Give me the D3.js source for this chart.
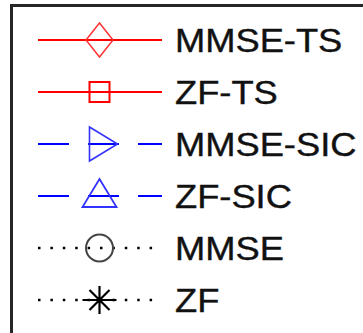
<!DOCTYPE html>
<html>
<head>
<meta charset="utf-8">
<script src="https://cdn.jsdelivr.net/npm/d3@7"></script>
<style>
  html, body { margin: 0; padding: 0; background: #fff; }
  svg { display: block; }
</style>
</head>
<body>
<div id="chart"></div>
<script>
const width = 363;
const height = 333;

// legend entries
const labels = ["MMSE-TS", "ZF-TS", "MMSE-SIC", "ZF-SIC", "MMSE", "ZF"];
const markers = ["diamond", "square", "triangleRight", "triangleUp", "circle", "star"];
const lineTypes = ["solid", "solid", "dashed", "dashed", "dotted", "dotted"];
const colors = ["#ff0000", "#ff0000", "#0000ff", "#0000ff", "#000000", "#000000"];

const svg = d3.select("#chart").append("svg")
    .attr("width", width)
    .attr("height", height);

// box (runs past the right and bottom edges)
svg.append("path")
    .attr("d", "M11.5,340 V5.5 H370")
    .attr("fill", "none")
    .attr("stroke", "#262626")
    .attr("stroke-width", 3);

const y = d3.scalePoint().domain(labels).range([40, 300]);
const x = d3.scaleLinear().domain([0, 1]).range([38, 162]);
const mx = x(0.5) - 0.5;

const dashFor = t => t === "dashed" ? "31,19" : (t === "dotted" ? "2.5,9.9" : null);

const rows = svg.selectAll("g.row")
    .data(labels)
    .enter().append("g")
    .attr("class", "row")
    .attr("transform", d => `translate(0,${y(d)})`);

rows.append("line")
    .attr("x1", x(0))
    .attr("x2", x(1))
    .attr("stroke", (d, i) => colors[i])
    .attr("stroke-width", (d, i) => lineTypes[i] === "dotted" ? 2.5 : 2)
    .attr("stroke-dasharray", (d, i) => dashFor(lineTypes[i]));

function markerPath(m) {
    switch (m) {
        case "diamond": return "M0,-17 L13.5,0 L0,17 L-13.5,0 Z";
        case "square": return "M-10,-10 H10 V10 H-10 Z";
        case "triangleRight": return "M-10,-17 L18,0 L-10,17 Z";
        case "triangleUp": return "M0,-17 L17,11 L-17,11 Z";
        case "circle": return d3.arc()({innerRadius: 0, outerRadius: 13.5, startAngle: 0, endAngle: 2 * Math.PI});
        case "star": return "M-17,0 H17 M0,-14 V14 M-10,-10 L10,10 M-10,10 L10,-10";
    }
}

const markerStroke = ["#ff3333", "#ff0000", "#3333ff", "#3333ff", "#444444", "#000000"];
const markerWidth = [1.5, 2, 1.6, 1.8, 2, 2.2];

rows.append("path")
    .attr("transform", `translate(${mx},0)`)
    .attr("d", (d, i) => markerPath(markers[i]))
    .attr("fill", "none")
    .attr("stroke", (d, i) => markerStroke[i])
    .attr("stroke-width", (d, i) => markerWidth[i]);

rows.append("text")
    .attr("transform", "translate(175,12) scale(1.1,1)")
    .attr("font-family", "Liberation Sans, Arial, sans-serif")
    .attr("font-size", 33)
    .attr("fill", "#111")
    .attr("stroke", "#111")
    .attr("stroke-width", 0.4)
    .text(d => d);
</script>
</body>
</html>
